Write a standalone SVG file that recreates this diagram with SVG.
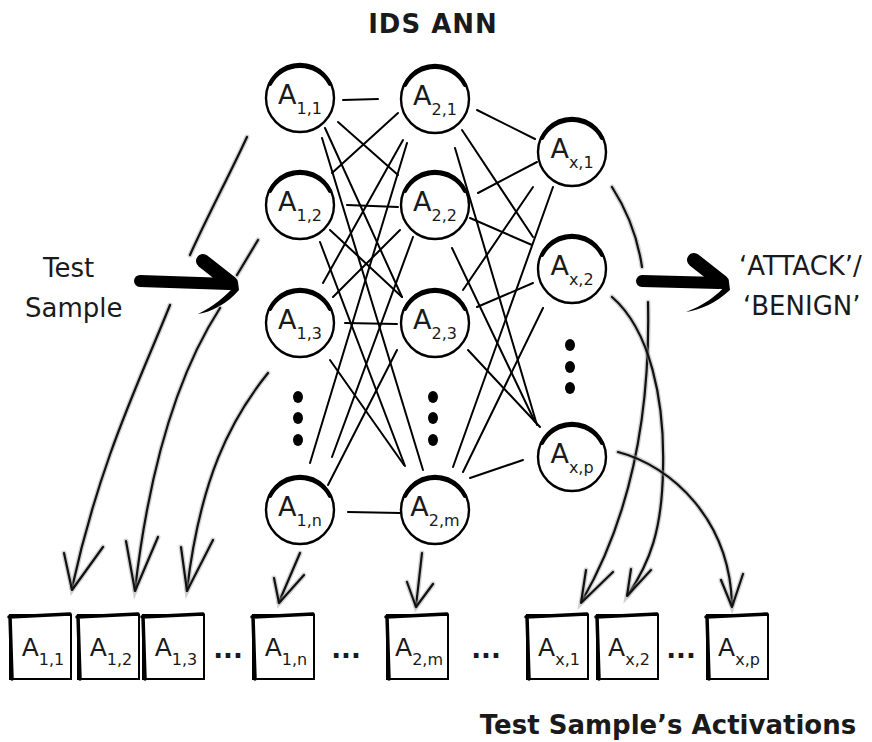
<svg xmlns="http://www.w3.org/2000/svg" xmlns:xlink="http://www.w3.org/1999/xlink" width="872" height="742" viewBox="0 0 872 742">
<style>
.bg{fill:#fff}
.node circle{fill:#fff;stroke:#000;stroke-width:2.4}
.node .rim{fill:none;stroke:#000;stroke-width:4;stroke-linecap:round}
.lbl{font-family:"DejaVu Sans",Verdana,sans-serif;fill:#1a1a1a}
.nA{font-size:27px}
.nS{font-size:16px}
.bA{font-size:25px}
.dots{font-family:"DejaVu Sans",Verdana,sans-serif;font-size:26px;font-weight:bold;fill:#1a1a1a}
.dot{fill:#000}
.box rect{fill:#fff;stroke:#000;stroke-width:2}
.box .edge{fill:none;stroke:#000;stroke-width:3.5;stroke-linecap:round}
#connectors line{stroke:#000;stroke-width:2;stroke-linecap:round}
.skg{fill:none;stroke:#999;stroke-width:5;opacity:.45;stroke-linecap:round}
.sk{fill:none;stroke:#111;stroke-width:2.2;stroke-linecap:round;stroke-linejoin:round}
.thick{fill:none;stroke:#000;stroke-linecap:round}
.title{font-family:"DejaVu Sans",Verdana,sans-serif;font-weight:bold;font-size:26px;fill:#1a1a1a}
.txt{font-family:"DejaVu Sans",Verdana,sans-serif;font-size:26px;fill:#1a1a1a}
</style>
<defs>
<path id="g1" d="M247,137 C228,178 208,215 190,255"/>
<path id="g2" d="M258,240 L237,275"/>
<path id="a1" d="M170,305 C140,380 100,460 72,588"/>
<path id="h1" d="M64,553 L72,590 L103,547"/>
<path id="a2" d="M220,308 C180,370 150,460 135,590"/>
<path id="h2" d="M126,541 L135,591 L158,537"/>
<path id="a3" d="M268,373 C230,420 200,480 187,590"/>
<path id="h3" d="M181,547 L187,591 L213,540"/>
<path id="a4" d="M300,553 L279,602"/>
<path id="h4" d="M274,578 L279,603 L304,575"/>
<path id="a5" d="M422,553 C420,570 418,588 416,606"/>
<path id="h5" d="M407,582 L416,607 L433,584"/>
<path id="r1a" d="M612,187 C628,212 638,240 642,267"/>
<path id="r1b" d="M648,302 C650,390 640,500 582,601"/>
<path id="hr1" d="M586,570 L581,603 L613,572"/>
<path id="r2" d="M612,297 C650,330 665,400 663,470 C662,530 650,562 628,595"/>
<path id="hr2" d="M631,569 L627,596 L651,570"/>
<path id="r3" d="M618,452 C672,466 730,520 732,605"/>
<path id="hr3" d="M721,580 L732,607 L743,574"/>
</defs>
<rect class="bg" x="0" y="0" width="872" height="742"/>

<text class="title" x="433" y="33" text-anchor="middle" letter-spacing="1">IDS ANN</text>

<g id="connectors">
<line x1="343" y1="100" x2="378" y2="99"/>
<line x1="338" y1="122" x2="398" y2="175"/>
<line x1="325" y1="128" x2="402" y2="297"/>
<line x1="322" y1="138" x2="423" y2="470"/>
<line x1="398" y1="113" x2="332" y2="173"/>
<line x1="403" y1="140" x2="323" y2="283"/>
<line x1="407" y1="143" x2="310" y2="463"/>
<line x1="347" y1="205" x2="398" y2="207"/>
<line x1="330" y1="230" x2="402" y2="297"/>
<line x1="320" y1="242" x2="405" y2="466"/>
<line x1="400" y1="230" x2="333" y2="297"/>
<line x1="413" y1="237" x2="332" y2="457"/>
<line x1="345" y1="323" x2="397" y2="324"/>
<line x1="330" y1="360" x2="404" y2="465"/>
<line x1="397" y1="350" x2="328" y2="485"/>
<line x1="348" y1="512" x2="400" y2="513"/>
<line x1="477" y1="110" x2="535" y2="139"/>
<line x1="462" y1="130" x2="533" y2="237"/>
<line x1="455" y1="148" x2="537" y2="425"/>
<line x1="537" y1="162" x2="478" y2="193"/>
<line x1="533" y1="187" x2="463" y2="290"/>
<line x1="553" y1="187" x2="453" y2="467"/>
<line x1="470" y1="218" x2="532" y2="245"/>
<line x1="452" y1="248" x2="535" y2="422"/>
<line x1="533" y1="283" x2="477" y2="307"/>
<line x1="543" y1="308" x2="463" y2="472"/>
<line x1="468" y1="350" x2="540" y2="427"/>
<line x1="470" y1="478" x2="523" y2="460"/>
</g>

<g id="node-A11" class="node"><circle cx="300" cy="98" r="34"/><path class="rim" d="M270,84 A34,34 0 0 1 330,84"/><text class="lbl nA" x="300" y="104" text-anchor="middle">A<tspan class="nS" dy="10">1,1</tspan></text></g>
<g id="node-A12" class="node"><circle cx="300" cy="205" r="34"/><path class="rim" d="M270,191 A34,34 0 0 1 330,191"/><text class="lbl nA" x="300" y="211" text-anchor="middle">A<tspan class="nS" dy="10">1,2</tspan></text></g>
<g id="node-A13" class="node"><circle cx="300" cy="323" r="34"/><path class="rim" d="M270,309 A34,34 0 0 1 330,309"/><text class="lbl nA" x="300" y="329" text-anchor="middle">A<tspan class="nS" dy="10">1,3</tspan></text></g>
<g id="node-A1n" class="node"><circle cx="300" cy="510" r="34"/><path class="rim" d="M270,496 A34,34 0 0 1 330,496"/><text class="lbl nA" x="300" y="516" text-anchor="middle">A<tspan class="nS" dy="10">1,n</tspan></text></g>
<g id="node-A21" class="node"><circle cx="435" cy="99" r="34"/><path class="rim" d="M405,85 A34,34 0 0 1 465,85"/><text class="lbl nA" x="435" y="105" text-anchor="middle">A<tspan class="nS" dy="10">2,1</tspan></text></g>
<g id="node-A22" class="node"><circle cx="435" cy="205" r="34"/><path class="rim" d="M405,191 A34,34 0 0 1 465,191"/><text class="lbl nA" x="435" y="211" text-anchor="middle">A<tspan class="nS" dy="10">2,2</tspan></text></g>
<g id="node-A23" class="node"><circle cx="435" cy="323" r="34"/><path class="rim" d="M405,309 A34,34 0 0 1 465,309"/><text class="lbl nA" x="435" y="329" text-anchor="middle">A<tspan class="nS" dy="10">2,3</tspan></text></g>
<g id="node-A2m" class="node"><circle cx="435" cy="510" r="34"/><path class="rim" d="M405,496 A34,34 0 0 1 465,496"/><text class="lbl nA" x="435" y="516" text-anchor="middle">A<tspan class="nS" dy="10">2,m</tspan></text></g>
<g id="node-Ax1" class="node"><circle cx="572" cy="152" r="34"/><path class="rim" d="M542,138 A34,34 0 0 1 602,138"/><text class="lbl nA" x="572" y="158" text-anchor="middle">A<tspan class="nS" dy="10">x,1</tspan></text></g>
<g id="node-Ax2" class="node"><circle cx="572" cy="269" r="34"/><path class="rim" d="M542,255 A34,34 0 0 1 602,255"/><text class="lbl nA" x="572" y="275" text-anchor="middle">A<tspan class="nS" dy="10">x,2</tspan></text></g>
<g id="node-Axp" class="node"><circle cx="572" cy="457" r="34"/><path class="rim" d="M542,443 A34,34 0 0 1 602,443"/><text class="lbl nA" x="572" y="463" text-anchor="middle">A<tspan class="nS" dy="10">x,p</tspan></text></g>

<g id="ellipsis-col1"><ellipse class="dot" cx="298" cy="397" rx="5" ry="6"/><ellipse class="dot" cx="298" cy="418" rx="5" ry="6"/><ellipse class="dot" cx="298" cy="440" rx="5" ry="6"/></g>
<g id="ellipsis-col2"><ellipse class="dot" cx="433" cy="397" rx="5" ry="6"/><ellipse class="dot" cx="433" cy="418" rx="5" ry="6"/><ellipse class="dot" cx="433" cy="440" rx="5" ry="6"/></g>
<g id="ellipsis-col3"><ellipse class="dot" cx="570" cy="345" rx="5" ry="6"/><ellipse class="dot" cx="570" cy="367" rx="5" ry="6"/><ellipse class="dot" cx="570" cy="388" rx="5" ry="6"/></g>

<g id="input">
<text class="txt" x="43" y="277">Test</text>
<text class="txt" x="25" y="317">Sample</text>
<use xlink:href="#g1" class="skg"/><use xlink:href="#g1" class="sk"/>
<use xlink:href="#g2" class="skg"/><use xlink:href="#g2" class="sk"/>
<path class="thick" stroke-width="12" d="M140,281 L229,284"/>
<path class="thick" stroke-width="14" d="M203,261 L231,283"/>
<path fill="#000" d="M238,282 C226,297 212,307 198,314 C211,312 227,304 239,290 Z"/>
</g>

<g id="output">
<text class="txt" x="739" y="275">‘ATTACK’/</text>
<text class="txt" x="743" y="315">‘BENIGN’</text>
<path class="thick" stroke-width="12" d="M642,281 L719,283"/>
<path class="thick" stroke-width="14" d="M694,260 L722,282"/>
<path fill="#000" d="M729,282 C716,297 702,306 686,312 C700,310 716,303 730,290 Z"/>
</g>

<g id="arrows">
<use xlink:href="#a1" class="skg"/><use xlink:href="#a1" class="sk"/><use xlink:href="#h1" class="skg"/><use xlink:href="#h1" class="sk"/>
<use xlink:href="#a2" class="skg"/><use xlink:href="#a2" class="sk"/><use xlink:href="#h2" class="skg"/><use xlink:href="#h2" class="sk"/>
<use xlink:href="#a3" class="skg"/><use xlink:href="#a3" class="sk"/><use xlink:href="#h3" class="skg"/><use xlink:href="#h3" class="sk"/>
<use xlink:href="#a4" class="skg"/><use xlink:href="#a4" class="sk"/><use xlink:href="#h4" class="skg"/><use xlink:href="#h4" class="sk"/>
<use xlink:href="#a5" class="skg"/><use xlink:href="#a5" class="sk"/><use xlink:href="#h5" class="skg"/><use xlink:href="#h5" class="sk"/>
<use xlink:href="#r1a" class="skg"/><use xlink:href="#r1a" class="sk"/>
<use xlink:href="#r1b" class="skg"/><use xlink:href="#r1b" class="sk"/><use xlink:href="#hr1" class="skg"/><use xlink:href="#hr1" class="sk"/>
<use xlink:href="#r2" class="skg"/><use xlink:href="#r2" class="sk"/><use xlink:href="#hr2" class="skg"/><use xlink:href="#hr2" class="sk"/>
<use xlink:href="#r3" class="skg"/><use xlink:href="#r3" class="sk"/><use xlink:href="#hr3" class="skg"/><use xlink:href="#hr3" class="sk"/>
</g>

<g id="box-A11" class="box"><rect x="10" y="615" width="61" height="64"/><path class="edge" d="M9,617 L70,614 M10,616 L12,679"/><text class="lbl bA" x="43" y="656" text-anchor="middle">A<tspan class="nS" dy="9">1,1</tspan></text></g>
<g id="box-A12" class="box"><rect x="78" y="615" width="61" height="64"/><path class="edge" d="M77,617 L138,614 M78,616 L80,679"/><text class="lbl bA" x="111" y="656" text-anchor="middle">A<tspan class="nS" dy="9">1,2</tspan></text></g>
<g id="box-A13" class="box"><rect x="143" y="615" width="61" height="64"/><path class="edge" d="M142,617 L203,614 M143,616 L145,679"/><text class="lbl bA" x="176" y="656" text-anchor="middle">A<tspan class="nS" dy="9">1,3</tspan></text></g>
<text class="dots" x="228" y="658" text-anchor="middle">...</text>
<g id="box-A1n" class="box"><rect x="253" y="615" width="61" height="64"/><path class="edge" d="M252,617 L313,614 M253,616 L255,679"/><text class="lbl bA" x="286" y="656" text-anchor="middle">A<tspan class="nS" dy="9">1,n</tspan></text></g>
<text class="dots" x="346" y="658" text-anchor="middle">...</text>
<g id="box-A2m" class="box"><rect x="387" y="615" width="61" height="64"/><path class="edge" d="M386,617 L447,614 M387,616 L389,679"/><text class="lbl bA" x="419" y="656" text-anchor="middle">A<tspan class="nS" dy="9">2,m</tspan></text></g>
<text class="dots" x="486" y="658" text-anchor="middle">...</text>
<g id="box-Ax1" class="box"><rect x="527" y="615" width="61" height="64"/><path class="edge" d="M526,617 L587,614 M527,616 L529,679"/><text class="lbl bA" x="559" y="656" text-anchor="middle">A<tspan class="nS" dy="9">x,1</tspan></text></g>
<g id="box-Ax2" class="box"><rect x="597" y="615" width="61" height="64"/><path class="edge" d="M596,617 L657,614 M597,616 L599,679"/><text class="lbl bA" x="629" y="656" text-anchor="middle">A<tspan class="nS" dy="9">x,2</tspan></text></g>
<text class="dots" x="681" y="658" text-anchor="middle">...</text>
<g id="box-Axp" class="box"><rect x="707" y="615" width="61" height="64"/><path class="edge" d="M706,617 L767,614 M707,616 L709,679"/><text class="lbl bA" x="739" y="656" text-anchor="middle">A<tspan class="nS" dy="9">x,p</tspan></text></g>

<text class="title" x="668" y="734" text-anchor="middle">Test Sample’s Activations</text>
</svg>
